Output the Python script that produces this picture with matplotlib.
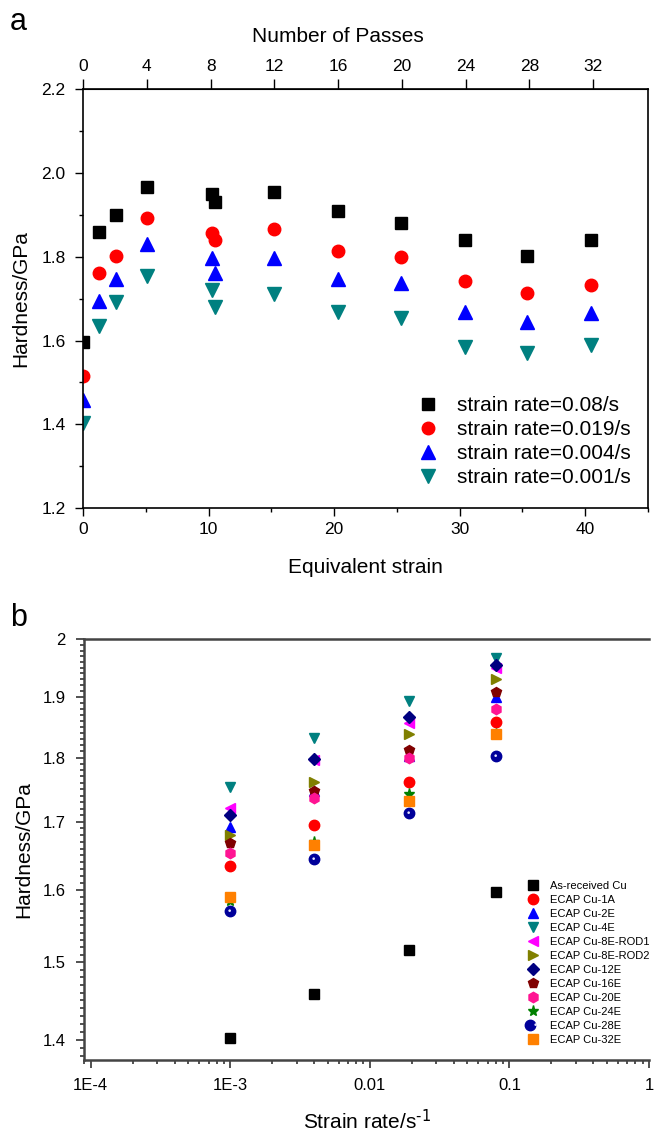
import numpy as np
import matplotlib.pyplot as plt
from matplotlib.ticker import FixedLocator, NullFormatter, LogLocator, FixedFormatter, MultipleLocator
from matplotlib.markers import MarkerStyle
from matplotlib.transforms import Affine2D
from matplotlib.legend_handler import HandlerTuple

plt.rcParams['font.family'] = ['Liberation Sans', 'DejaVu Sans']
plt.rcParams['mathtext.default'] = 'regular'

# samples (same order in both panels)
samples = ['As-received Cu', 'ECAP Cu-1A', 'ECAP Cu-2E', 'ECAP Cu-4E',
           'ECAP Cu-8E-ROD1', 'ECAP Cu-8E-ROD2', 'ECAP Cu-12E', 'ECAP Cu-16E',
           'ECAP Cu-20E', 'ECAP Cu-24E', 'ECAP Cu-28E', 'ECAP Cu-32E']
strain = [0, 1.3, 2.6, 5.1, 10.3, 10.55, 15.2, 20.3, 25.3, 30.4, 35.4, 40.45]
per_pass = 1.27
pass_ticks = [0, 4, 8, 12, 16, 20, 24, 28, 32]

rates = [0.08, 0.019, 0.004, 0.001]
rate_labels = ['strain rate=0.08/s', 'strain rate=0.019/s',
               'strain rate=0.004/s', 'strain rate=0.001/s']

# hardness (GPa) for each strain rate
hv_008 = [1.597, 1.858, 1.900, 1.967, 1.950, 1.931, 1.955, 1.909, 1.880, 1.839, 1.802, 1.839]
hv_0019 = [1.516, 1.761, 1.803, 1.893, 1.856, 1.839, 1.867, 1.813, 1.800, 1.743, 1.714, 1.732]
hv_0004 = [1.458, 1.695, 1.747, 1.831, 1.796, 1.762, 1.797, 1.747, 1.737, 1.669, 1.644, 1.665]
hv_0001 = [1.402, 1.635, 1.692, 1.753, 1.721, 1.680, 1.711, 1.668, 1.654, 1.584, 1.570, 1.590]
hv_all = [hv_008, hv_0019, hv_0004, hv_0001]

x_ticks_b = [1e-4, 1e-3, 1e-2, 1e-1, 1]
x_ticklabels_b = ['1E-4', '1E-3', '0.01', '0.1', '1']
y_ticks_b = [1.4, 1.5, 1.6, 1.7, 1.8, 1.9, 2.0]


def main():
    W, H = 654, 1134
    fig = plt.figure(figsize=(W / 100, H / 100), dpi=100)

    # ---------- panel a ----------
    ax = fig.add_axes([83 / W, 1 - 508 / H, (648 - 83) / W, (508 - 89.3) / H])
    styles_a = [('s', 'black', 8), ('o', 'red', 9), ('^', 'blue', 9.5), ('v', '#008080', 9.5)]
    for hv, lab, (m, c, ms) in zip(hv_all, rate_labels, styles_a):
        ax.plot(strain, hv, ls='none', marker=m, color=c, ms=ms, mec=c, label=lab)
    ax.set_xlim(0, 45)
    ax.set_ylim(1.2, 2.2)
    ax.xaxis.set_major_locator(MultipleLocator(10))
    ax.xaxis.set_minor_locator(MultipleLocator(5))
    ax.yaxis.set_major_locator(MultipleLocator(0.2))
    ax.yaxis.set_minor_locator(MultipleLocator(0.1))
    ax.yaxis.set_major_formatter(lambda v, p: '%.1f' % v)
    ax.tick_params(which='major', direction='out', length=6, width=1, labelsize=12.5, pad=6.5,
                   top=False, right=False)
    ax.tick_params(axis='x', which='major', pad=4)
    ax.tick_params(which='minor', direction='out', length=3, width=1, top=False, right=False)
    for s in ax.spines.values():
        s.set_linewidth(1.2)
    ax.set_xlabel('Equivalent strain', fontsize=15, labelpad=15)
    ax.set_ylabel('Hardness/GPa', fontsize=15, labelpad=8)

    sec = ax.secondary_xaxis('top', functions=(lambda x: x / per_pass, lambda n: n * per_pass))
    sec.set_xticks(pass_ticks)
    sec.tick_params(direction='out', length=7, width=1, labelsize=12.5, pad=4)
    sec.set_xlabel('Number of Passes', fontsize=15, labelpad=12, x=0.451)

    ax.legend(loc='lower left', bbox_to_anchor=(0.592, 0.05), frameon=False, fontsize=15,
              handlelength=1.0, handletextpad=0.9, labelspacing=0.24, borderpad=0,
              borderaxespad=0, numpoints=1)

    fig.text(10 / W, 1 - 30 / H, 'a', fontsize=22)

    # ---------- panel b ----------
    bx = fig.add_axes([84 / W, 1 - 1060 / H, (649 - 84) / W, (1060 - 639.3) / H])
    styles_b = [('s', 'black'), ('o', 'red'), ('^', 'blue'), ('v', '#008080'),
                ('<', '#ff00ff'), ('>', '#808000'), ('D', '#000080'), ('p', '#800000'),
                ('h', '#ff1493'), ('*', '#008000'), ('o', '#00009a'), ('s', '#ff8000')]
    sizes_b = [6.5, 7.5, 7.5, 7.5, 7.5, 7.5, 6.5, 7.5, 7.5, 8, 7.5, 6.5]
    highlight = MarkerStyle('o', transform=Affine2D().scale(0.25).translate(-0.08, 0.08))
    handles = []
    for i, name in enumerate(samples):
        m, c = styles_b[i]
        vals = [hv[i] for hv in hv_all]
        ln, = bx.plot(rates, vals, ls='none', marker=m, color=c, mec=c, ms=sizes_b[i], label=name)
        if name.endswith('28E'):
            hl, = bx.plot(rates, vals, ls='none', marker=highlight, color='#e8e8ff', mec='none',
                          ms=sizes_b[i])
            handles.append((ln, hl))
        else:
            handles.append(ln)
    bx.set_xscale('log')
    bx.set_yscale('log')
    bx.set_xlim(8.97e-5, 1.0)
    bx.set_ylim(1.375, 2.0)
    bx.xaxis.set_major_locator(FixedLocator(x_ticks_b))
    bx.xaxis.set_major_formatter(FixedFormatter(x_ticklabels_b))
    bx.xaxis.set_minor_locator(LogLocator(base=10, subs=np.arange(2, 10)))
    bx.xaxis.set_minor_formatter(NullFormatter())
    bx.yaxis.set_major_locator(FixedLocator(y_ticks_b))
    bx.yaxis.set_major_formatter(lambda v, p: '%g' % v)
    bx.yaxis.set_minor_locator(FixedLocator(np.arange(138, 200) / 100))
    bx.yaxis.set_minor_formatter(NullFormatter())
    bx.tick_params(which='major', direction='out', length=6, width=1.2, labelsize=12, pad=7,
                   colors='#333333', labelcolor='black')
    bx.tick_params(which='minor', direction='out', length=3, width=1.2, colors='#333333')
    bx.spines['right'].set_visible(False)
    for s in ['left', 'bottom', 'top']:
        bx.spines[s].set_linewidth(1.8)
        bx.spines[s].set_color('#444444')
    bx.set_xlabel(r'Strain rate/s$^{\text{-1}}$', fontsize=15, labelpad=11)
    bx.set_ylabel('Hardness/GPa', fontsize=15, labelpad=7)

    bx.legend(handles, samples, loc='lower left', bbox_to_anchor=(0.785, 0.035), frameon=False,
              fontsize=8, handlelength=1.0, handletextpad=1.0, labelspacing=0.36, borderpad=0,
              borderaxespad=0, numpoints=1, handler_map={tuple: HandlerTuple(ndivide=None)})

    fig.text(10 / W, 1 - 626 / H, 'b', fontsize=22)

    fig.savefig('out.png', dpi=100)


if __name__ == '__main__':
    main()
